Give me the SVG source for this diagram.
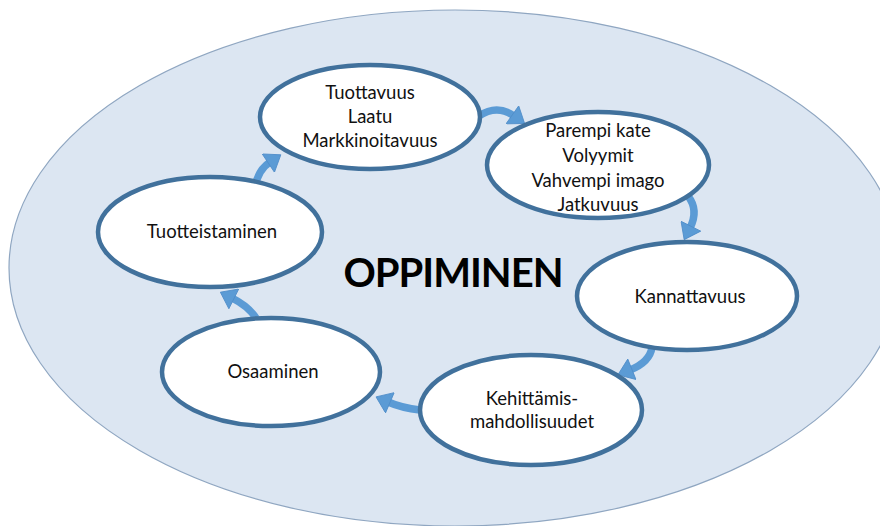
<svg xmlns="http://www.w3.org/2000/svg" width="880" height="526" viewBox="0 0 880 526">
  <style>
    .bg { fill: #dce6f2; stroke: #8fa6c1; stroke-width: 1.2; }
    .node ellipse { fill: #ffffff; stroke: #41719c; stroke-width: 4.5; }
    .node text { font-family: Lato, "Liberation Sans", sans-serif; font-size: 18.5px; fill: #111111; text-anchor: middle; }
    .title { font-family: Lato, "Liberation Sans", sans-serif; font-size: 40px; font-weight: bold; letter-spacing: -1px; fill: #000000; text-anchor: middle; }
    .arrow { fill: none; stroke: #5b9bd5; stroke-width: 7.5; marker-end: url(#head); }
  </style>
  <defs>
    <marker id="head" markerUnits="userSpaceOnUse" markerWidth="18" markerHeight="22" viewBox="0 0 16 22" refX="2" refY="11" orient="auto">
      <path d="M0,0 L15,11 L0,22 Z" fill="#5b9bd5" stroke="#4f8cc9" stroke-width="0.8"/>
    </marker>
  </defs>

  <!-- surrounding field -->
  <ellipse class="bg" cx="455" cy="268" rx="446" ry="258"/>
  <text class="title" x="453" y="287">OPPIMINEN</text>

  <!-- connectors -->
  <g id="connectors">
    <path class="arrow" d="M479,116 Q497,104 514,116"/>
    <path class="arrow" d="M688,196 Q699,210 690,228"/>
    <path class="arrow" d="M652,347 Q650,362 630,370"/>
    <path class="arrow" d="M420,410 Q402,408 388,402"/>
    <path class="arrow" d="M256,318 Q248,306 232,298"/>
    <path class="arrow" d="M255,187 Q258,170 270,162"/>
  </g>

  <g id="n-tuottavuus" class="node">
    <ellipse cx="370" cy="117" rx="110" ry="52"/>
    <text x="370" y="99">Tuottavuus</text>
    <text x="370" y="123">Laatu</text>
    <text x="370" y="147">Markkinoitavuus</text>
  </g>

  <g id="n-kate" class="node">
    <ellipse cx="598" cy="165" rx="111" ry="53"/>
    <text x="598" y="137">Parempi kate</text>
    <text x="598" y="162">Volyymit</text>
    <text x="598" y="187">Vahvempi imago</text>
    <text x="598" y="211">Jatkuvuus</text>
  </g>

  <g id="n-kannattavuus" class="node">
    <ellipse cx="687" cy="296" rx="110" ry="54"/>
    <text x="690" y="303">Kannattavuus</text>
  </g>

  <g id="n-kehittamis" class="node">
    <ellipse cx="531" cy="410" rx="111" ry="55"/>
    <text x="532" y="405">Kehittämis-</text>
    <text x="532" y="428">mahdollisuudet</text>
  </g>

  <g id="n-osaaminen" class="node">
    <ellipse cx="271" cy="372" rx="109" ry="54"/>
    <text x="273" y="378">Osaaminen</text>
  </g>

  <g id="n-tuotteistaminen" class="node">
    <ellipse cx="210" cy="232" rx="112" ry="55"/>
    <text x="212" y="238">Tuotteistaminen</text>
  </g>
</svg>
